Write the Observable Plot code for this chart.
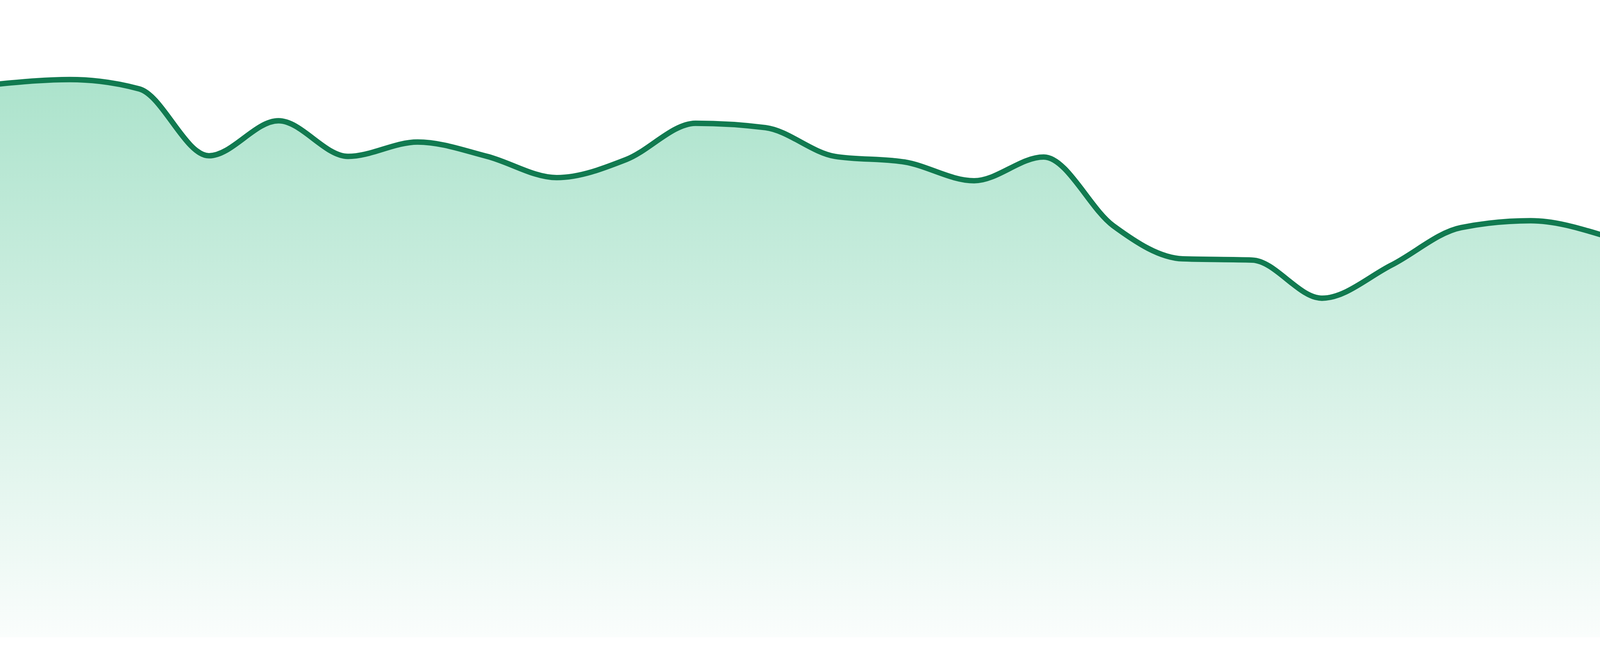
<!DOCTYPE html>
<html>
<head>
<meta charset="utf-8">
<script src="https://cdn.jsdelivr.net/npm/d3@7"></script>
<script src="https://cdn.jsdelivr.net/npm/@observablehq/plot@0.6"></script>
<style>
  html, body { margin: 0; padding: 0; background: #ffffff; width: 100%; height: 100%; overflow: hidden; }
  #chart { width: 100%; height: 100%; line-height: 0; }
  #chart svg { display: block; }
</style>
</head>
<body>
<div id="chart"></div>
<script>
// Series values, one per period (equally spaced)
const values = [
  88.6, 89.3, 87.8, 77.1, 82.7, 77.0, 79.3, 77.0, 73.6, 76.5, 82.3, 81.6,
  77.0, 76.1, 73.1, 76.9, 65.9, 60.6, 60.4, 54.3, 59.6, 65.6, 66.7, 64.5
];
const periods = values.map((_, i) => i);

const lineColor = "#117a50";
const gradTop = "#ace3cc";
const gradBottom = "#fafdfc";

const data = periods.map((p, i) => ({ period: p, value: values[i] }));

// Fill the actual viewport exactly (design size 4800 x 1680)
const W = document.documentElement.clientWidth || window.innerWidth || 4800;
const H = document.documentElement.clientHeight || window.innerHeight || 1680;
const sx = W / 4800, sy = H / 1680;

const svg = Plot.plot({
  width: W,
  height: H,
  marginTop: 0,
  marginRight: 0,
  marginLeft: 0,
  marginBottom: 48 * sy,
  x: { domain: [periods[0], periods[periods.length - 1]], axis: null },
  y: { domain: [0, 102], axis: null },
  marks: [
    Plot.areaY(data, { x: "period", y: "value", curve: "monotone-x", fill: "url(#areaGrad)" }),
    Plot.lineY(data, { x: "period", y: "value", curve: "monotone-x", stroke: lineColor, strokeWidth: 15 * Math.sqrt(sx * sy) })
  ]
});
svg.style.maxWidth = "none";
svg.style.width = W + "px";
svg.style.height = H + "px";

const ns = "http://www.w3.org/2000/svg";
const defs = document.createElementNS(ns, "defs");
const grad = document.createElementNS(ns, "linearGradient");
grad.setAttribute("id", "areaGrad");
grad.setAttribute("x1", "0"); grad.setAttribute("y1", "0");
grad.setAttribute("x2", "0"); grad.setAttribute("y2", "1");
[[0, gradTop], [1, gradBottom]].forEach(([o, c]) => {
  const s = document.createElementNS(ns, "stop");
  s.setAttribute("offset", o);
  s.setAttribute("stop-color", c);
  grad.appendChild(s);
});
defs.appendChild(grad);
svg.insertBefore(defs, svg.firstChild);

document.getElementById("chart").appendChild(svg);
</script>
</body>
</html>
